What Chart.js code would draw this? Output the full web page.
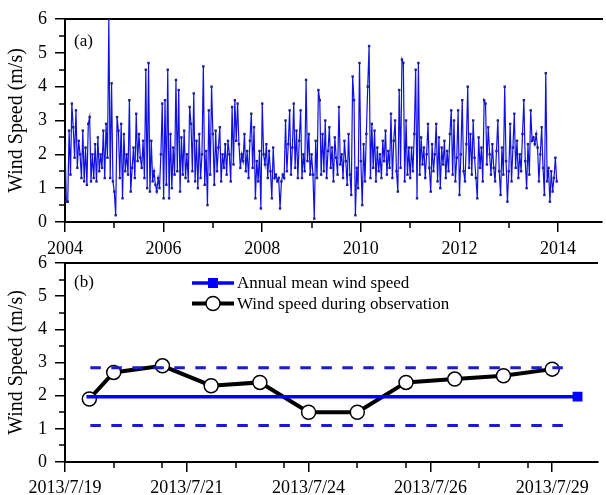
<!DOCTYPE html>
<html>
<head>
<meta charset="utf-8">
<script src="https://cdn.jsdelivr.net/npm/chart.js@4.4.1/dist/chart.umd.min.js"></script>
<style>
  html, body { margin: 0; padding: 0; background: #fff; }
  #wrap { position: relative; width: 606px; height: 495px; overflow: hidden; }
  #wrap canvas { position: absolute; left: 0; top: 0; }
</style>
</head>
<body>
<div id="wrap">
  <canvas id="chartA" width="606" height="495"></canvas>
  <canvas id="chartB" width="606" height="495"></canvas>
</div>
<script>
// (a) wind speed 2004-2013, ~3 readings per month (36 per year)
const speed2004 = [2.3, 0.6, 0.6, 2.7, 1.4, 3.5, 2.8, 1.9, 3.3, 1.6, 2.4, 2.0, 1.3, 2.7, 1.2, 2.2, 1.1, 2.9, 3.1, 1.2, 2.0, 1.3, 2.3, 1.2, 2.5, 1.5, 2.0, 1.6, 2.7, 1.3, 2.9, 1.9, 6.0, 1.3, 4.1, 1.2];
const speed2005 = [0.9, 0.2, 3.1, 2.7, 1.3, 2.9, 0.7, 2.6, 1.5, 2.0, 1.4, 3.6, 0.9, 1.6, 2.2, 1.3, 3.2, 1.8, 2.6, 1.9, 1.6, 2.4, 1.3, 4.5, 1.0, 4.7, 0.9, 2.4, 1.2, 1.5, 1.1, 0.9, 1.3, 1.0, 2.0, 3.5];
const speed2006 = [0.7, 3.6, 1.1, 4.5, 0.7, 2.6, 1.0, 2.2, 1.4, 4.2, 1.5, 3.9, 0.9, 2.5, 1.4, 2.7, 1.3, 2.0, 1.2, 3.4, 2.9, 1.5, 3.8, 1.2, 2.4, 1.0, 2.6, 1.3, 2.0, 4.6, 1.1, 2.1, 0.5, 3.3, 1.4, 4.0];
const speed2007 = [2.6, 1.1, 2.7, 1.5, 2.2, 2.8, 1.2, 2.0, 1.6, 2.3, 1.4, 2.4, 2.0, 1.2, 3.4, 1.7, 3.6, 2.4, 3.5, 2.3, 1.6, 2.0, 1.8, 2.6, 1.5, 2.1, 1.3, 2.4, 3.2, 1.6, 2.8, 0.7, 1.8, 1.2, 2.1, 0.4];
const speed2008 = [3.5, 2.0, 1.7, 2.3, 1.3, 2.1, 1.5, 0.7, 2.2, 1.3, 1.4, 1.2, 1.3, 0.4, 1.2, 1.4, 1.3, 3.0, 1.5, 2.3, 3.3, 1.4, 2.2, 3.5, 1.6, 2.7, 1.3, 2.4, 3.3, 1.3, 2.0, 1.5, 4.2, 1.8, 2.6, 1.4];
const speed2009 = [2.0, 1.4, 0.1, 2.4, 1.3, 3.9, 3.6, 1.4, 2.6, 1.5, 3.0, 1.3, 2.1, 2.8, 1.6, 2.2, 1.2, 2.5, 1.9, 1.4, 3.4, 1.7, 2.0, 1.3, 2.4, 1.8, 1.1, 2.6, 1.4, 0.8, 4.3, 3.6, 0.2, 1.6, 1.0, 4.7];
const speed2010 = [1.8, 0.5, 2.3, 1.2, 2.6, 4.0, 5.2, 1.3, 2.9, 1.6, 2.7, 1.2, 2.2, 1.5, 2.0, 1.3, 2.4, 1.8, 2.7, 1.4, 2.1, 1.6, 3.2, 1.3, 2.4, 3.0, 1.5, 0.9, 3.9, 1.6, 4.8, 4.7, 1.2, 3.0, 1.4, 2.2];
const speed2011 = [1.3, 2.2, 1.5, 2.6, 4.5, 0.7, 4.7, 1.4, 2.5, 1.7, 2.2, 1.3, 2.0, 2.9, 1.6, 0.9, 2.3, 1.5, 2.0, 2.9, 1.2, 2.5, 1.0, 2.2, 1.7, 2.4, 1.3, 2.1, 1.5, 2.6, 3.3, 1.4, 3.0, 1.2, 1.9, 3.3];
const speed2012 = [0.8, 2.0, 3.6, 1.5, 1.2, 2.3, 4.0, 1.6, 2.6, 1.4, 3.0, 1.9, 1.3, 0.7, 2.5, 1.6, 2.2, 1.2, 3.6, 3.5, 1.7, 2.8, 2.0, 1.4, 2.3, 1.6, 1.2, 2.1, 3.0, 1.5, 0.8, 2.2, 1.4, 4.0, 1.8, 0.6];
const speed2013 = [1.5, 2.9, 1.2, 2.2, 3.2, 1.6, 2.4, 1.3, 2.0, 1.5, 2.6, 3.6, 1.8, 1.0, 2.3, 1.4, 3.3, 2.4, 2.5, 2.3, 2.6, 2.2, 1.2, 2.0, 2.8, 1.6, 0.8, 4.4, 1.2, 1.6, 0.6, 1.5, 0.9, 1.3, 1.9, 1.2];
const years = [2004, 2005, 2006, 2007, 2008, 2009, 2010, 2011, 2012, 2013];
const yearTicks = [2004, 2006, 2008, 2010, 2012, 2014];
const yearMinor = [2005, 2007, 2009, 2011, 2013];

// (b) observation period
const obsPos = [0.5, 1, 2, 3, 4, 5, 6, 7, 8, 9, 10];
const obsSpeed = [1.9, 2.7, 2.9, 2.3, 2.4, 1.5, 1.5, 2.4, 2.5, 2.6, 2.8];
const dateTickPos = [0, 2.5, 5, 7.5, 10];
const dateTickLabels = ['2013/7/19', '2013/7/21', '2013/7/24', '2013/7/26', '2013/7/29'];
const dateMinor = [1, 2, 3.5, 4.5, 6, 7, 8.5, 9.5];
const annualMean = 1.97;
const meanUpper = 2.84;
const meanLower = 1.10;
const meanSpan = [0.44, 10.52];
const bandSpan = [0.52, 10.36];

const speedTicks = [0, 1, 2, 3, 4, 5, 6];
const speedMinor = [0.5, 1.5, 2.5, 3.5, 4.5, 5.5];

Chart.defaults.font.family = '"Liberation Serif", "Times New Roman", serif';
Chart.defaults.font.size = 18;
Chart.defaults.color = '#000';

// short minor tick marks outside the axes
const minorTicks = {
  id: 'minorTicks',
  afterDraw(chart, args, opts) {
    const { ctx, chartArea, scales } = chart;
    ctx.save();
    ctx.strokeStyle = '#000';
    ctx.lineWidth = 1.5;
    ctx.beginPath();
    opts.x.forEach(v => {
      const px = Math.round(scales.x.getPixelForValue(v));
      ctx.moveTo(px, chartArea.bottom);
      ctx.lineTo(px, chartArea.bottom + opts.len);
    });
    opts.y.forEach(v => {
      const py = Math.round(scales.y.getPixelForValue(v));
      ctx.moveTo(chartArea.left - opts.len, py);
      ctx.lineTo(chartArea.left, py);
    });
    ctx.stroke();
    ctx.restore();
  }
};

// panel tag like (a) / (b)
const panelTag = {
  id: 'panelTag',
  afterDraw(chart, args, opts) {
    const ctx = chart.ctx;
    ctx.save();
    ctx.font = '17px "Liberation Serif", serif';
    ctx.fillStyle = '#000';
    ctx.textBaseline = 'middle';
    ctx.fillText(opts.text, chart.chartArea.left + opts.dx, chart.chartArea.top + opts.dy);
    ctx.restore();
  }
};

// legend for panel (b), drawn from the dataset styles
const legendBox = {
  id: 'legendBox',
  afterDraw(chart, args, opts) {
    const ctx = chart.ctx;
    ctx.save();
    opts.items.forEach((it, i) => {
      const ds = chart.data.datasets[it.index];
      const y = opts.y + i * opts.rowGap;
      const mx = opts.x + opts.lineLen / 2;
      ctx.setLineDash([]);
      ctx.strokeStyle = ds.borderColor;
      ctx.lineWidth = ds.borderWidth;
      ctx.beginPath();
      ctx.moveTo(opts.x, y);
      ctx.lineTo(opts.x + opts.lineLen, y);
      ctx.stroke();
      if (it.marker === 'rect') {
        ctx.fillStyle = ds.borderColor;
        ctx.fillRect(mx - 5, y - 5, 10, 10);
      } else {
        ctx.fillStyle = '#fff';
        ctx.strokeStyle = '#000';
        ctx.lineWidth = 1.5;
        ctx.beginPath();
        ctx.arc(mx, y, 7, 0, Math.PI * 2);
        ctx.fill();
        ctx.stroke();
      }
      ctx.fillStyle = '#000';
      ctx.font = '17px "Liberation Serif", serif';
      ctx.textBaseline = 'middle';
      ctx.fillText(ds.label, opts.x + opts.lineLen + 3, y + 1);
    });
    ctx.restore();
  }
};

function yAxis() {
  return {
    type: 'linear',
    min: 0,
    max: 6,
    afterBuildTicks: s => { s.ticks = speedTicks.map(v => ({ value: v })); },
    afterFit: s => { s.width = 65; },
    grid: { display: true, drawOnChartArea: false, color: '#000', lineWidth: 1.5, tickLength: 10 },
    border: { display: true, color: '#000', width: 2 },
    ticks: { padding: 8, font: { size: 18 } },
    title: { display: true, text: 'Wind Speed (m/s)', font: { size: 20 }, padding: { top: 5, bottom: 0 } }
  };
}

function frameTop() {
  return {
    type: 'linear',
    position: 'top',
    afterFit: s => { s.height = 0; },
    grid: { display: false },
    ticks: { display: false },
    border: { display: true, color: '#000', width: 2 }
  };
}

// ---------- panel (a)
const seriesA = [];
const yearData = [speed2004, speed2005, speed2006, speed2007, speed2008, speed2009, speed2010, speed2011, speed2012, speed2013];
years.forEach((yr, k) => {
  yearData[k].forEach((v, i) => seriesA.push({ x: yr + i / 36, y: v }));
});

new Chart(document.getElementById('chartA'), {
  type: 'line',
  data: {
    datasets: [{
      label: 'Wind speed',
      data: seriesA,
      borderColor: '#1010e6',
      borderWidth: 1.2,
      pointStyle: 'rect',
      pointRadius: 1.7,
      pointBackgroundColor: '#1c1c9a',
      pointBorderWidth: 0,
      tension: 0
    }]
  },
  options: {
    responsive: false,
    animation: false,
    devicePixelRatio: 1,
    layout: { padding: { top: 19, left: 0, right: 0, bottom: 0 } },
    plugins: {
      legend: { display: false },
      tooltip: { enabled: false },
      minorTicks: { x: yearMinor, y: speedMinor, len: 6 },
      panelTag: { text: '(a)', dx: 9, dy: 23 }
    },
    scales: {
      x: {
        type: 'linear',
        min: 2004,
        max: 2014.89,
        afterBuildTicks: s => { s.ticks = yearTicks.map(v => ({ value: v })); },
        afterFit: s => { s.height = 495 - 222; },
        grid: { display: true, drawOnChartArea: false, color: '#000', lineWidth: 1.5, tickLength: 10 },
        border: { display: true, color: '#000', width: 2 },
        ticks: { padding: 6, maxRotation: 0, callback: v => String(v) }
      },
      xTop: frameTop(),
      y: yAxis()
    }
  },
  plugins: [minorTicks, panelTag]
});

// ---------- panel (b)
new Chart(document.getElementById('chartB'), {
  type: 'line',
  data: {
    datasets: [
      {
        label: 'Annual mean wind speed',
        data: meanSpan.map(x => ({ x: x, y: annualMean })),
        borderColor: '#0000ff',
        borderWidth: 3.5,
        pointStyle: 'rect',
        pointRadius: [0, 7],
        pointBackgroundColor: '#0000ff',
        pointBorderWidth: 0
      },
      {
        label: 'upper',
        data: bandSpan.map(x => ({ x: x, y: meanUpper })),
        borderColor: '#1a1ad0',
        borderWidth: 3,
        borderDash: [10.5, 10.5],
        pointRadius: 0
      },
      {
        label: 'lower',
        data: bandSpan.map(x => ({ x: x, y: meanLower })),
        borderColor: '#1a1ad0',
        borderWidth: 3,
        borderDash: [10.5, 10.5],
        pointRadius: 0
      },
      {
        label: 'Wind speed during observation',
        data: obsPos.map((x, i) => ({ x: x, y: obsSpeed[i] })),
        borderColor: '#000',
        borderWidth: 4,
        pointStyle: 'circle',
        pointRadius: 7,
        pointBackgroundColor: '#fff',
        pointBorderColor: '#000',
        pointBorderWidth: 1.5,
        tension: 0
      }
    ]
  },
  options: {
    responsive: false,
    animation: false,
    devicePixelRatio: 1,
    layout: { padding: { top: 263, left: 0, right: 0, bottom: 0 } },
    plugins: {
      legend: { display: false },
      tooltip: { enabled: false },
      minorTicks: { x: dateMinor, y: speedMinor, len: 6 },
      panelTag: { text: '(b)', dx: 9, dy: 20 },
      legendBox: {
        x: 192, y: 283, rowGap: 20.5, lineLen: 42,
        items: [{ index: 0, marker: 'rect' }, { index: 3, marker: 'circle' }]
      }
    },
    scales: {
      x: {
        type: 'linear',
        min: 0,
        max: 10.93,
        afterBuildTicks: s => { s.ticks = dateTickPos.map(v => ({ value: v })); },
        afterFit: s => { s.height = 495 - 462; },
        grid: { display: true, drawOnChartArea: false, color: '#000', lineWidth: 1.5, tickLength: 10 },
        border: { display: true, color: '#000', width: 2 },
        ticks: { padding: 5, maxRotation: 0, callback: v => dateTickLabels[dateTickPos.indexOf(v)] }
      },
      xTop: frameTop(),
      y: yAxis()
    }
  },
  plugins: [minorTicks, panelTag, legendBox]
});
</script>
</body>
</html>
